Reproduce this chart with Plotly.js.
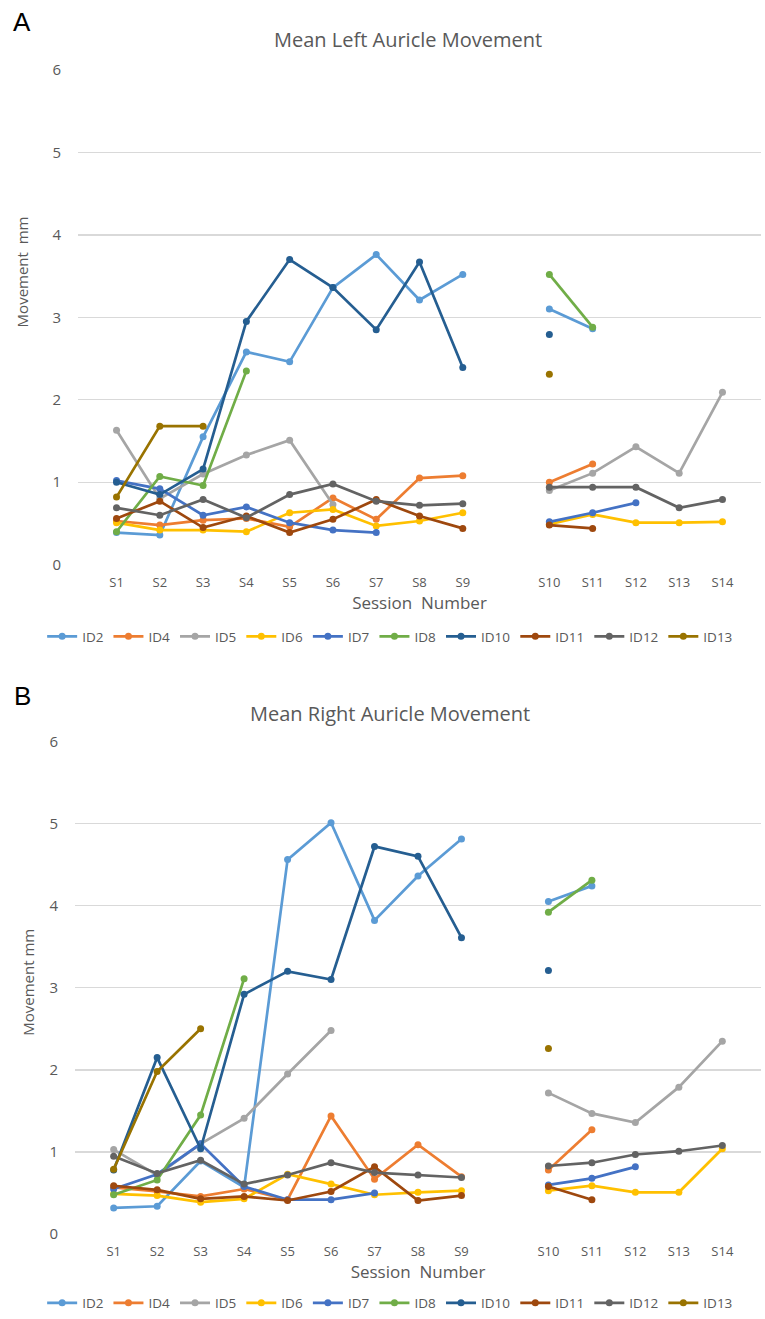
<!DOCTYPE html>
<html>
<head>
<meta charset="utf-8">
<script src="https://cdn.plot.ly/plotly-3.0.1.min.js"></script>
<style>html,body{margin:0;padding:0;background:#fff;}#chart{width:765px;height:1319px;}</style>
</head>
<body>
<div id="chart"></div>
<script>
// Categories (blank slot between S9 and S10)
const sessions = ['S1','S2','S3','S4','S5','S6','S7','S8','S9',' ','S10','S11','S12','S13','S14'];
const ids = ['ID2','ID4','ID5','ID6','ID7','ID8','ID10','ID11','ID12','ID13'];
const colors = ['#5B9BD5','#ED7D31','#A5A5A5','#FFC000','#4472C4','#70AD47','#255E91','#9E480E','#636363','#997300'];

// Panel A: Mean Left Auricle Movement (mm)
const left_ID2  = [0.39,0.36,1.55,2.58,2.46,3.36,3.76,3.21,3.52,null,3.10,2.86,null,null,null];
const left_ID4  = [0.53,0.48,0.54,0.56,0.46,0.81,0.55,1.05,1.08,null,1.00,1.22,null,null,null];
const left_ID5  = [1.63,0.80,1.10,1.33,1.51,0.73,null,null,null,null,0.90,1.11,1.43,1.11,2.09];
const left_ID6  = [0.51,0.42,0.42,0.40,0.63,0.67,0.47,0.53,0.63,null,0.49,0.61,0.51,0.51,0.52];
const left_ID7  = [1.02,0.92,0.60,0.70,0.51,0.42,0.39,null,null,null,0.52,0.63,0.75,null,null];
const left_ID8  = [0.40,1.07,0.96,2.35,null,null,null,null,null,null,3.52,2.88,null,null,null];
const left_ID10 = [1.00,0.85,1.16,2.95,3.70,3.36,2.85,3.67,2.39,null,2.79,null,null,null,null];
const left_ID11 = [0.56,0.77,0.45,0.59,0.39,0.55,0.79,0.59,0.44,null,0.48,0.44,null,null,null];
const left_ID12 = [0.69,0.60,0.79,0.57,0.85,0.98,0.77,0.72,0.74,null,0.94,0.94,0.94,0.69,0.79];
const left_ID13 = [0.82,1.68,1.68,null,null,null,null,null,null,null,2.31,null,null,null,null];

// Panel B: Mean Right Auricle Movement (mm)
const right_ID2  = [0.32,0.34,0.89,0.57,4.56,5.01,3.82,4.36,4.81,null,4.05,4.24,null,null,null];
const right_ID4  = [0.57,0.52,0.46,0.55,0.42,1.44,0.67,1.09,0.70,null,0.78,1.27,null,null,null];
const right_ID5  = [1.03,0.72,1.10,1.41,1.95,2.48,null,null,null,null,1.72,1.47,1.36,1.79,2.35];
const right_ID6  = [0.49,0.47,0.39,0.43,0.73,0.61,0.48,0.51,0.53,null,0.53,0.59,0.51,0.51,1.04];
const right_ID7  = [0.55,0.73,1.10,0.58,0.42,0.42,0.50,null,null,null,0.60,0.68,0.82,null,null];
const right_ID8  = [0.48,0.66,1.45,3.11,null,null,null,null,null,null,3.92,4.31,null,null,null];
const right_ID10 = [0.78,2.15,1.04,2.92,3.20,3.10,4.72,4.60,3.61,null,3.21,null,null,null,null];
const right_ID11 = [0.59,0.54,0.43,0.46,0.41,0.52,0.82,0.41,0.47,null,0.58,0.42,null,null,null];
const right_ID12 = [0.95,0.74,0.90,0.61,0.72,0.87,0.75,0.72,0.69,null,0.83,0.87,0.97,1.01,1.08];
const right_ID13 = [0.79,1.98,2.50,null,null,null,null,null,null,null,2.26,null,null,null,null];

const leftSeries  = [left_ID2,left_ID4,left_ID5,left_ID6,left_ID7,left_ID8,left_ID10,left_ID11,left_ID12,left_ID13];
const rightSeries = [right_ID2,right_ID4,right_ID5,right_ID6,right_ID7,right_ID8,right_ID10,right_ID11,right_ID12,right_ID13];

const txt = '#595959';
const fam = '"Open Sans", "Noto Sans", sans-serif';
const traces = [];
function add(series, xa, ya, lg){
  series.forEach((arr,i)=>{
    traces.push({
      type:'scatter', mode:'lines+markers', name:ids[i],
      x:sessions, y:arr, xaxis:xa, yaxis:ya, legend:lg,
      connectgaps:false,
      line:{color:colors[i], width:2.7},
      marker:{color:colors[i], size:7}
    });
  });
}
add(leftSeries,'x','y','legend');
add(rightSeries,'x2','y2','legend2');

const H = 1319, W = 765;
const xCommon = {
  type:'category', categoryorder:'array', categoryarray:sessions,
  showgrid:false, zeroline:false, showline:false, ticks:'',
  tickfont:{family:fam, size:13, color:txt}, ticklabelstandoff:8, fixedrange:true, automargin:false
};
const yCommon = {
  range:[0,6], dtick:1, showgrid:true, gridcolor:'#D9D9D9', gridwidth:1.4,
  zeroline:false, showline:false, ticks:'',
  tickfont:{family:fam, size:15, color:txt}, ticklabelstandoff:16, automargin:false
};

const layout = {
  width:W, height:H,
  margin:{l:0,r:0,t:0,b:0},
  paper_bgcolor:'#fff', plot_bgcolor:'#fff',
  showlegend:true,
  xaxis: Object.assign({}, xCommon, {domain:[78/W, 761/W], anchor:'y',
    title:{text:'Session  Number', font:{family:fam, size:17, color:txt}, standoff:4}}),
  yaxis: Object.assign({}, yCommon, {domain:[1-566/H, 1-70/H], anchor:'x'}),
  xaxis2: Object.assign({}, xCommon, {domain:[75/W, 761/W], anchor:'y2',
    title:{text:'Session  Number', font:{family:fam, size:17, color:txt}, standoff:4}}),
  yaxis2: Object.assign({}, yCommon, {domain:[1-1237/H, 1-743/H], anchor:'x2'}),
  legend:{orientation:'h', x:0.51, xanchor:'center', y:1-638/H, yanchor:'middle',
    font:{family:fam, size:13.5, color:txt}, bgcolor:'rgba(0,0,0,0)', itemwidth:30, tracegroupgap:0},
  legend2:{orientation:'h', x:0.51, xanchor:'center', y:1-1306/H, yanchor:'middle',
    font:{family:fam, size:13.5, color:txt}, bgcolor:'rgba(0,0,0,0)', itemwidth:30, tracegroupgap:0},
  annotations:[
    {text:'A', xref:'paper', yref:'paper', x:22/W, y:1-22/H, xanchor:'center', yanchor:'middle', showarrow:false,
     font:{family:'"Liberation Sans", Arial, sans-serif', size:26, color:'#000'}},
    {text:'B', xref:'paper', yref:'paper', x:22/W, y:1-698/H, xanchor:'center', yanchor:'middle', showarrow:false,
     font:{family:'"Liberation Sans", Arial, sans-serif', size:26, color:'#000'}},
    {text:'Mean Left Auricle Movement', xref:'paper', yref:'paper', x:408/W, y:1-40/H, xanchor:'center', yanchor:'middle', showarrow:false,
     font:{family:fam, size:20, color:txt}},
    {text:'Mean Right Auricle Movement', xref:'paper', yref:'paper', x:390/W, y:1-715/H, xanchor:'center', yanchor:'middle', showarrow:false,
     font:{family:fam, size:20, color:txt}},
    {text:'Movement  mm', xref:'paper', yref:'paper', x:22/W, y:1-273/H, xanchor:'center', yanchor:'middle', showarrow:false,
     textangle:-90, font:{family:fam, size:15, color:txt}},
    {text:'Movement mm', xref:'paper', yref:'paper', x:28/W, y:1-985/H, xanchor:'center', yanchor:'middle', showarrow:false,
     textangle:-90, font:{family:fam, size:15, color:txt}}
  ]
};
Plotly.newPlot('chart', traces, layout, {displayModeBar:false, staticPlot:true});
</script>
</body>
</html>
